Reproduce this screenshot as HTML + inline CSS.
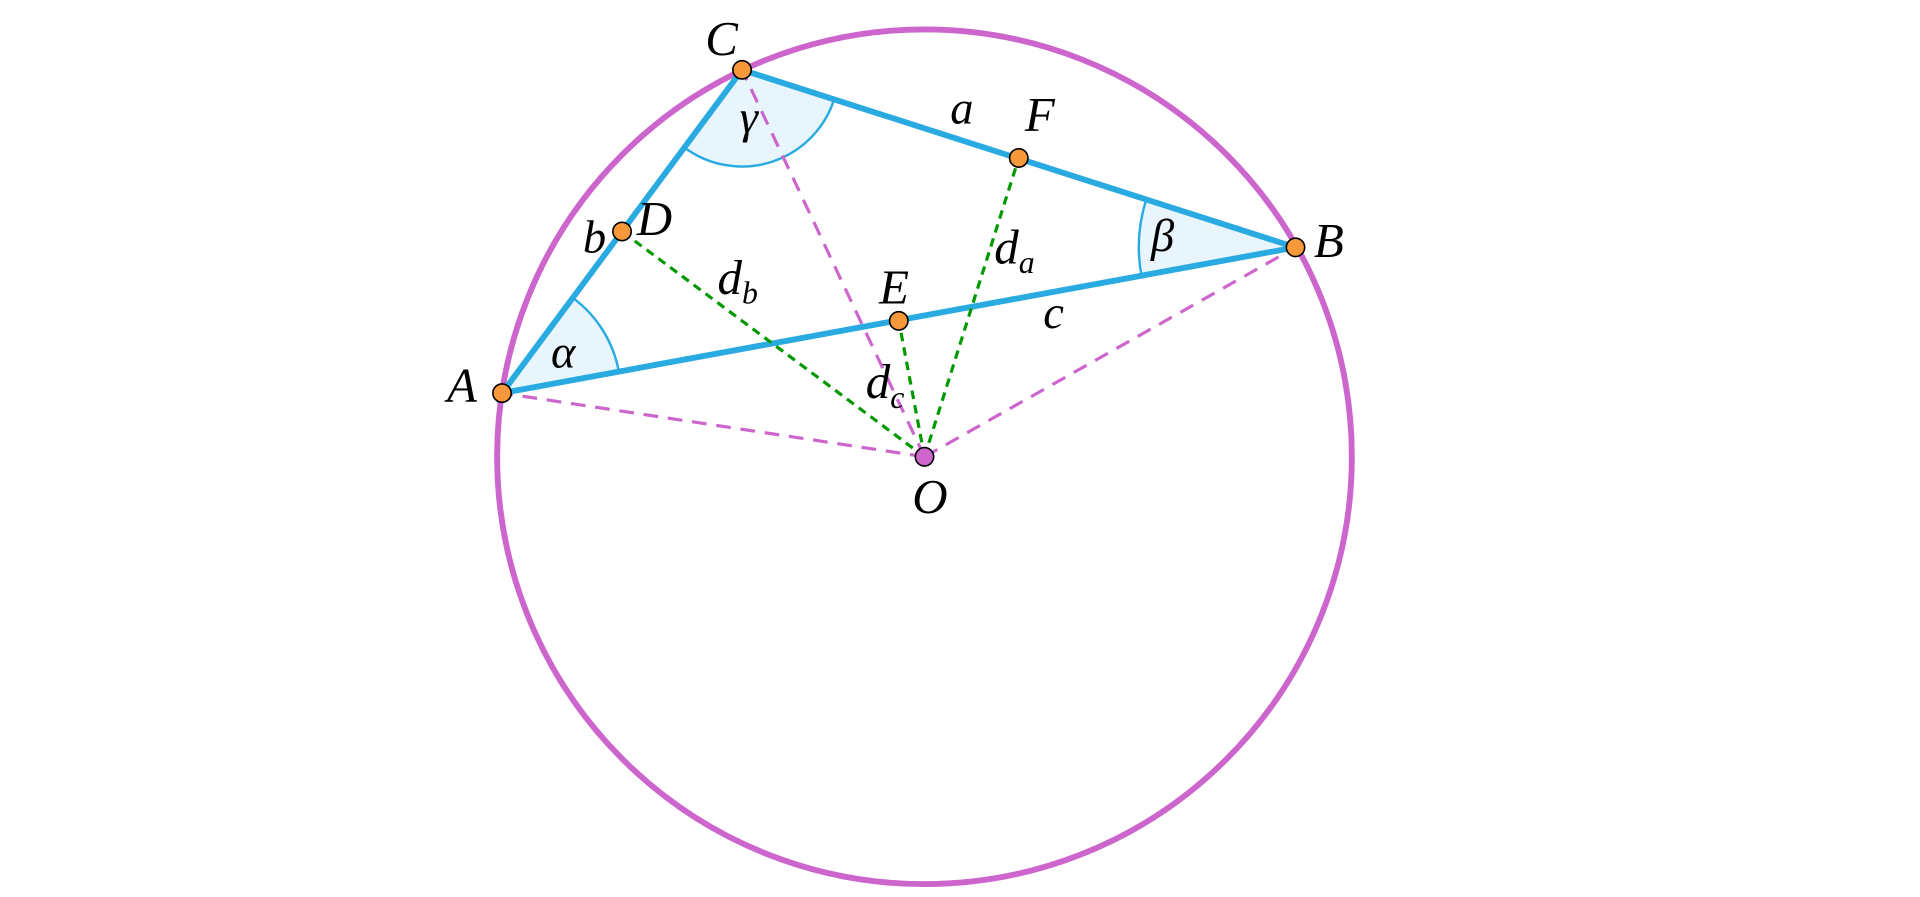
<!DOCTYPE html>
<html><head><meta charset="utf-8"><style>
html,body{margin:0;padding:0;background:#fff;width:1920px;height:897px;overflow:hidden}
svg text{font-family:"Liberation Serif",serif;font-style:italic;fill:#000}
</style></head><body>
<svg width="1920" height="897" viewBox="0 0 1568 732.5" xmlns="http://www.w3.org/2000/svg">
<path d="M410,321 L467.8,243.2 A97,97 0 0 1 505.4,303.4 Z" fill="#e8f5fc" stroke="none"/>
<path d="M606,57 L681.2,81.1 A79,79 0 0 1 558.9,120.4 Z" fill="#e8f5fc" stroke="none"/>
<path d="M1058,202 L932.2,225.2 A128,128 0 0 1 936.1,163 Z" fill="#e8f5fc" stroke="none"/>
<path d="M467.8,243.2 A97,97 0 0 1 505.4,303.4" fill="none" stroke="#29abe2" stroke-width="2"/>
<path d="M681.2,81.1 A79,79 0 0 1 558.9,120.4" fill="none" stroke="#29abe2" stroke-width="2"/>
<path d="M932.2,225.2 A128,128 0 0 1 936.1,163" fill="none" stroke="#29abe2" stroke-width="2"/>
<circle cx="755" cy="373" r="349" fill="none" stroke="#cc66cc" stroke-width="4.8"/>
<g stroke="#cc66cc" stroke-width="2.6" stroke-dasharray="12,8" fill="none">
<line x1="755" y1="373" x2="410" y2="321"/>
<line x1="755" y1="373" x2="1058" y2="202"/>
<line x1="755" y1="373" x2="606" y2="57"/>
</g>
<polygon points="410,321 1058,202 606,57" fill="none" stroke="#29abe2" stroke-width="4.8" stroke-linejoin="round"/>
<g stroke="#009900" stroke-width="2.6" stroke-dasharray="7,5" fill="none">
<line x1="755" y1="373" x2="508" y2="189"/>
<line x1="755" y1="373" x2="734" y2="262"/>
<line x1="755" y1="373" x2="832" y2="129"/>
</g>
<g fill="#f7983a" stroke="#000" stroke-width="1.3">
<circle cx="410" cy="321" r="7.5"/>
<circle cx="1058" cy="202" r="7.5"/>
<circle cx="606" cy="57" r="7.5"/>
<circle cx="508" cy="189" r="7.5"/>
<circle cx="734" cy="262" r="7.5"/>
<circle cx="832" cy="129" r="7.5"/>
</g>
<circle cx="755" cy="373" r="7.5" fill="#cc66cc" stroke="#000" stroke-width="1.3"/>
<g font-size="40">
<text x="576" y="45">C</text>
<text x="776" y="101" font-size="38">a</text>
<text x="837" y="107">F</text>
<text x="604" y="108" font-size="38">γ</text>
<text x="520" y="192">D</text>
<text x="476" y="206" font-size="38">b</text>
<text x="1073" y="210">B</text>
<text x="940" y="205" font-size="38">β</text>
<text x="586" y="240">d<tspan font-size="26" dy="8">b</tspan></text>
<text x="812" y="215">d<tspan font-size="26" dy="8">a</tspan></text>
<text x="718" y="248">E</text>
<text x="852" y="268" font-size="38">c</text>
<text x="450" y="300" font-size="38">α</text>
<text x="365" y="328">A</text>
<text x="707" y="325">d<tspan font-size="26" dy="8">c</tspan></text>
<text x="745" y="419">O</text>
</g>
</svg>
</body></html>
